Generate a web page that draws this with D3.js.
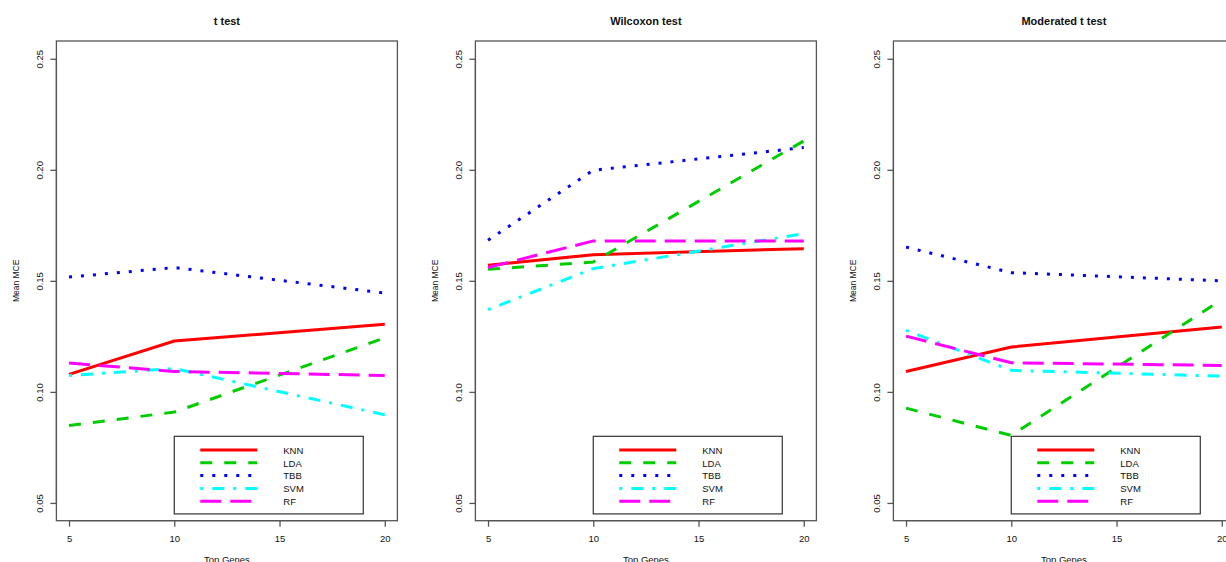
<!DOCTYPE html>
<html>
<head>
<meta charset="utf-8">
<script src="https://cdn.jsdelivr.net/npm/d3@7"></script>
<style>
  body { margin: 0; background: #fff; }
  text { font-family: "Liberation Sans", Arial, sans-serif; fill: #111; }
</style>
</head>
<body>
<div id="chart"></div>
<script>
// data
var topGenes = [5, 10, 20];
var xTicks = [5, 10, 15, 20];
var yTicks = [0.05, 0.10, 0.15, 0.20, 0.25];
var methods = ["KNN", "LDA", "TBB", "SVM", "RF"];
var titles = ["t test", "Wilcoxon test", "Moderated t test"];

var tTest = {
  KNN: [0.1079, 0.1229, 0.1305],
  LDA: [0.0849, 0.0909, 0.1243],
  TBB: [0.1517, 0.1560, 0.1445],
  SVM: [0.1074, 0.1105, 0.0897],
  RF:  [0.1130, 0.1092, 0.1074]
};
var wilcoxon = {
  KNN: [0.1570, 0.1618, 0.1645],
  LDA: [0.1552, 0.1585, 0.2130],
  TBB: [0.1683, 0.1998, 0.2100],
  SVM: [0.1370, 0.1555, 0.1713],
  RF:  [0.1560, 0.1680, 0.1680]
};
var moderated = {
  KNN: [0.1092, 0.1202, 0.1292],
  LDA: [0.0927, 0.0804, 0.1415],
  TBB: [0.1652, 0.1537, 0.1500],
  SVM: [0.1277, 0.1097, 0.1071],
  RF:  [0.1251, 0.1131, 0.1119]
};
var panels = [tTest, wilcoxon, moderated];

var colors = { KNN: "#ff0000", LDA: "#00cd00", TBB: "#0000ff", SVM: "#00ffff", RF: "#ff00ff" };
var dashes = { KNN: null, LDA: "12,12", TBB: "3,9", SVM: "3,9,12,9", RF: "21,9" };

var W = 1226, H = 562;
var svg = d3.select("#chart").append("svg")
    .attr("width", W)
    .attr("height", H);

var offsets = [0, 419, 837];
var boxW = 341, boxTop = 41, boxBottom = 520.7;

panels.forEach(function(panel, i) {
  var left = offsets[i] + 56.4;

  var x = d3.scaleLinear().domain([4.4, 20.6]).range([left, left + boxW]);
  var y = d3.scaleLinear().domain([0.042, 0.258]).range([boxBottom, boxTop]);

  var g = svg.append("g");

  // title
  g.append("text")
    .attr("x", left + boxW / 2)
    .attr("y", 25)
    .attr("text-anchor", "middle")
    .style("font-size", "11px")
    .style("font-weight", "bold")
    .text(titles[i]);

  // lines
  var line = d3.line()
    .x(function(d, k) { return x(topGenes[k]); })
    .y(function(d) { return y(d); });

  methods.forEach(function(m) {
    g.append("path")
      .datum(panel[m])
      .attr("fill", "none")
      .attr("stroke", colors[m])
      .attr("stroke-width", 3)
      .attr("stroke-dasharray", dashes[m])
      .attr("d", line);
  });

  // box
  g.append("rect")
    .attr("x", left)
    .attr("y", boxTop)
    .attr("width", boxW)
    .attr("height", boxBottom - boxTop)
    .attr("fill", "none")
    .attr("stroke", "#555")
    .attr("stroke-width", 1.3);

  // x axis
  var xa = g.append("g")
    .attr("transform", "translate(0," + boxBottom + ")")
    .call(d3.axisBottom(x).tickValues(xTicks).tickSize(6).tickPadding(9).tickFormat(d3.format("d")));
  xa.select(".domain").attr("d", "M" + x(5) + ",0H" + x(20)).attr("stroke", "#555").attr("stroke-width", 1.3);
  xa.selectAll(".tick line").attr("stroke", "#555").attr("stroke-width", 1.3);
  xa.selectAll("text").style("font-size", "9.5px").style("font-family", "Liberation Sans, Arial, sans-serif").attr("fill", "#111");

  // y axis
  var ya = g.append("g")
    .attr("transform", "translate(" + left + ",0)")
    .call(d3.axisLeft(y).tickValues(yTicks).tickSize(6).tickFormat(d3.format(".2f")));
  ya.select(".domain").attr("d", "M0," + y(0.05) + "V" + y(0.25)).attr("stroke", "#555").attr("stroke-width", 1.3);
  ya.selectAll(".tick line").attr("stroke", "#555").attr("stroke-width", 1.3);
  ya.selectAll(".tick text")
    .attr("x", null).attr("dy", null)
    .attr("text-anchor", "middle")
    .attr("transform", "translate(-13,0) rotate(-90)")
    .style("font-size", "9.5px")
    .style("font-family", "Liberation Sans, Arial, sans-serif")
    .attr("fill", "#111");

  // axis titles
  g.append("text")
    .attr("transform", "translate(" + (left - 37.5) + "," + ((boxTop + boxBottom) / 2) + ") rotate(-90)")
    .attr("text-anchor", "middle")
    .style("font-size", "8.5px")
    .text("Mean MCE");

  g.append("text")
    .attr("x", left + boxW / 2)
    .attr("y", 562.5)
    .attr("text-anchor", "middle")
    .style("font-size", "9.5px")
    .text("Top Genes");

  // legend
  var lx = x(10), ly = y(0.08);
  var lg = g.append("g").attr("transform", "translate(" + lx + "," + ly + ")");
  lg.append("rect")
    .attr("width", 189)
    .attr("height", 77.6)
    .attr("fill", "#fff")
    .attr("stroke", "#333")
    .attr("stroke-width", 1.2);
  methods.forEach(function(m, k) {
    var ry = 13.6 + k * 12.85;
    lg.append("line")
      .attr("x1", 26).attr("x2", 83)
      .attr("y1", ry).attr("y2", ry)
      .attr("stroke", colors[m])
      .attr("stroke-width", 3)
      .attr("stroke-dasharray", dashes[m]);
    lg.append("text")
      .attr("x", 109)
      .attr("y", ry + 3.8)
      .style("font-size", "9.5px")
      .text(m);
  });
});
</script>
</body>
</html>
